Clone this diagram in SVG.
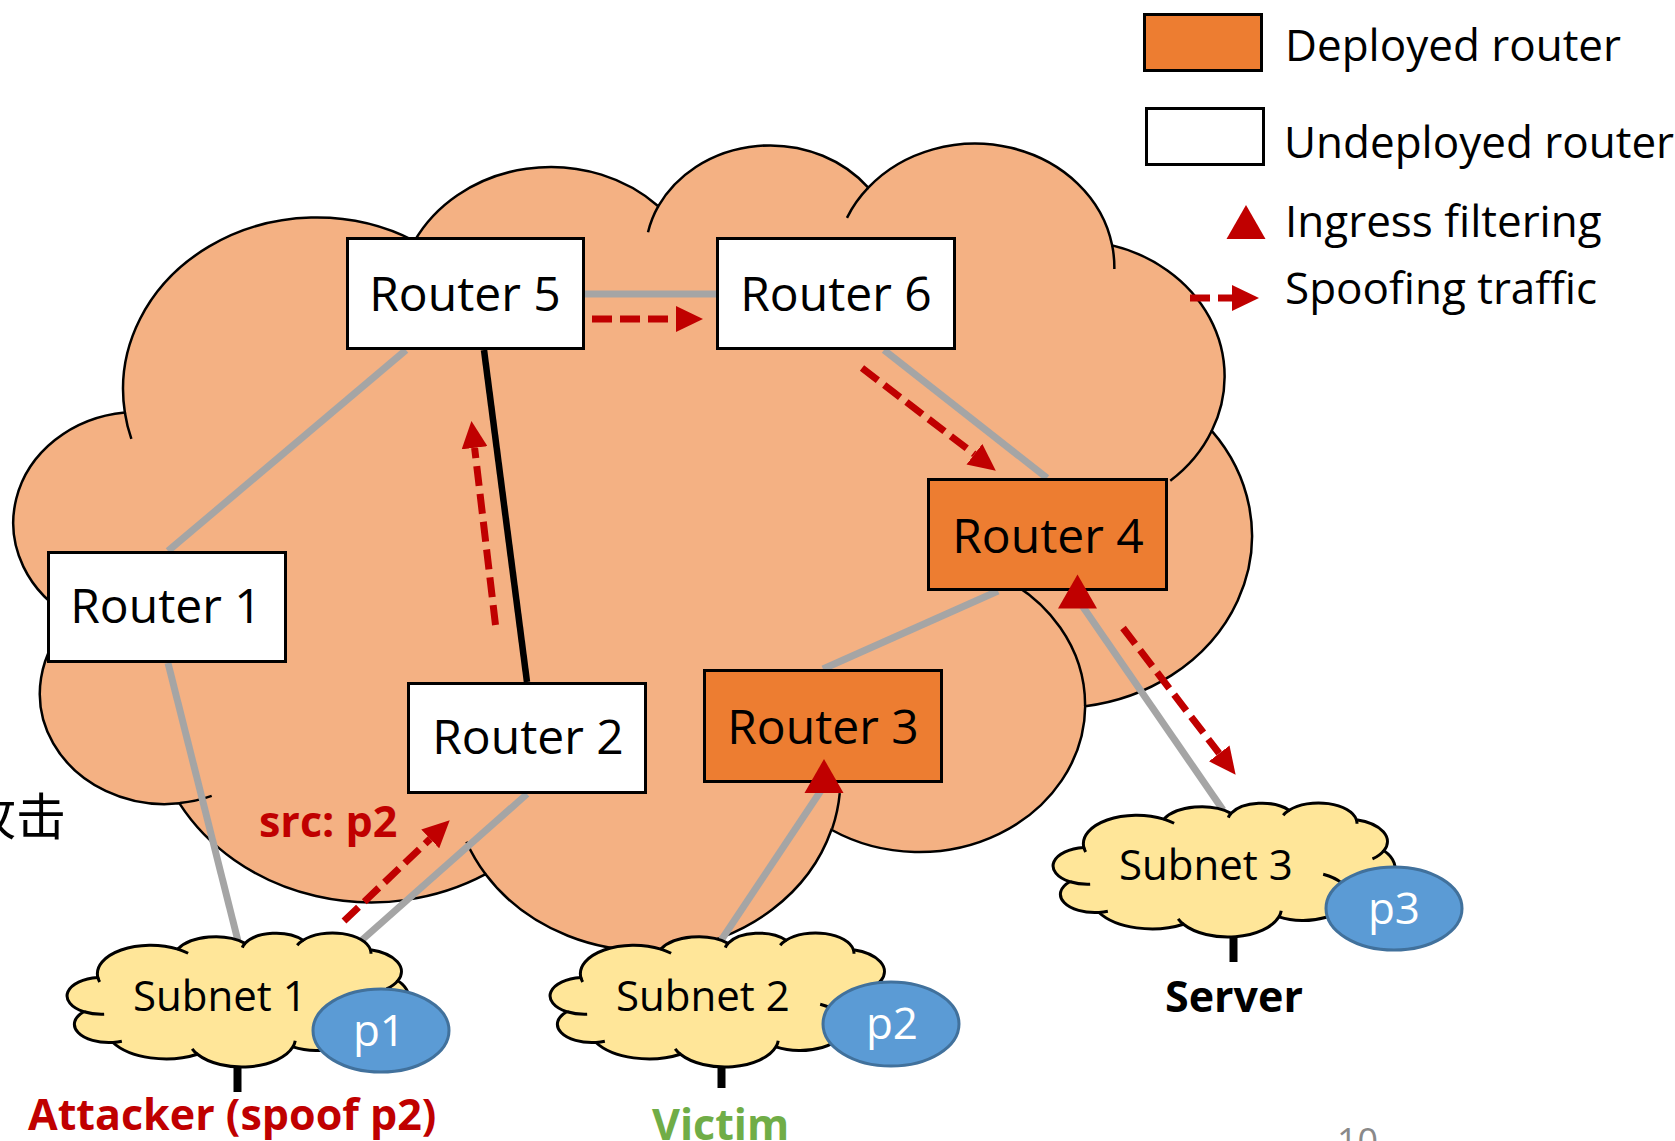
<svg xmlns="http://www.w3.org/2000/svg" width="1675" height="1141" viewBox="0 0 1675 1141">
  <style>
    text { font-family: "Open Sans", "Noto Sans", sans-serif; }
    .cjk { font-family: "Open Sans", "Noto Sans CJK SC", sans-serif; font-size: 50px; fill: #000; }
    .router { stroke: #000; stroke-width: 3; }
    .deployed { fill: #ED7D31; }
    .undeployed { fill: #FFFFFF; }
    .rlabel { font-size: 48px; fill: #000; text-anchor: middle; }
    .link { stroke: #A5A5A5; stroke-width: 7; fill: none; }
    .trunk { stroke: #000; stroke-width: 6.5; fill: none; }
    .spoof { stroke: #C00000; stroke-width: 7; stroke-dasharray: 20 8; fill: none; marker-end: url(#head); }
    .filter { fill: #C00000; }
    .bigcloud { fill: #F4B183; stroke: #000; stroke-width: 2.5; }
    .subcloud { fill: #FFE699; stroke: #000; stroke-width: 3; }
    .prefix { fill: #5B9BD5; stroke: #41719C; stroke-width: 3; }
    .plabel { font-size: 44px; fill: #FFFFFF; text-anchor: middle; }
    .slabel { font-size: 42px; fill: #000; }
    .host { stroke: #000; stroke-width: 8; }
    .hostlabel { font-weight: 700; font-size: 43px; }
    .legend { font-size: 44px; fill: #000; }
  </style>
  <defs>
    <!-- cloud outline in a 432 x 432 box; scaled per use -->
    <g id="cloud">
      <path vector-effect="non-scaling-stroke" d="M39,143.7 A67.53,91.9 0 0 1 140,51.92 A53.33,72.67 0 0 1 225,33.3 A43.65,59.45 0 0 1 298.2,23.39 A48.57,65.95 0 0 1 383.24,54.26 A53.33,72.73 0 0 1 417.98,153.54 A67.75,92.2 0 0 1 373.84,300.97 A57.85,78.67 0 0 1 285.36,367.08 A67.52,92.15 0 0 1 164.78,390.9 A77.2,105.43 0 0 1 58.03,352.96 A43.6,59.18 0 0 1 21.12,253.74 A43.45,59.45 0 0 1 39,143.7 Z"/>
      <path vector-effect="non-scaling-stroke" fill="none" d="M46.93,261.77 A43.45,59.45 0 0 1 21.6,253.8 M69.28,348.99 A43.6,59.18 0 0 1 58.2,352.81 M164.78,390.9 A67.52,92.15 0 0 1 158.1,373.5 M288.27,347.51 A67.52,92.15 0 0 1 285.6,366.6 M341.29,229.54 A57.85,78.67 0 0 1 373.8,300.9 M417.98,153.54 A53.33,72.73 0 0 1 403.5,180.3 M383.24,54.26 A48.57,65.95 0 0 1 384,66.9 M290.78,39.52 A48.57,65.95 0 0 1 298.2,23.39 M221.41,47.2 A43.65,59.45 0 0 1 225,33.3 M140,51.92 A67.53,91.9 0 0 1 153,65.4 M41.27,157.89 A67.53,91.9 0 0 1 39,143.7"/>
    </g>
    <path id="tri" d="M0,-17 L19.5,17 L-19.5,17 Z"/>
    <marker id="head" markerUnits="userSpaceOnUse" viewBox="0 0 27 26" markerWidth="27" markerHeight="26" refX="0" refY="13" orient="auto">
      <path d="M0,0 L27,13 L0,26 Z" fill="#C00000"/>
    </marker>
  </defs>

  <!-- network cloud -->
  <use id="network" href="#cloud" class="bigcloud" transform="translate(13 144) scale(2.86806 1.86806)"/>

  <!-- side caption, partly outside the page -->
  <text class="cjk" x="-34" y="835">攻击</text>

  <!-- links between routers and subnets -->
  <g id="links">
    <line class="link" x1="585" y1="294" x2="716" y2="294"/>
    <line class="link" x1="168" y1="551" x2="406" y2="350"/>
    <line class="link" x1="884" y1="350" x2="1047" y2="478"/>
    <line class="link" x1="998" y1="591" x2="823" y2="669"/>
    <line class="link" x1="168" y1="663" x2="238" y2="941"/>
    <line class="link" x1="527" y1="794" x2="362" y2="940"/>
    <line class="link" x1="826" y1="783" x2="720" y2="942"/>
    <line class="link" x1="1072" y1="591" x2="1223" y2="810"/>
    <line class="trunk" x1="484" y1="350" x2="527" y2="682"/>
  </g>

  <!-- subnets -->
  <g id="subnet1">
    <line class="host" x1="237.5" y1="1060" x2="237.5" y2="1092"/>
    <use href="#cloud" class="subcloud" transform="translate(67 933) scale(0.79167 0.31019)"/>
    <text class="slabel" x="133" y="1011">Subnet 1</text>
    <ellipse class="prefix" cx="381" cy="1030.5" rx="68" ry="41.5"/>
    <text class="plabel" x="379" y="1046">p1</text>
    <text class="hostlabel" x="28" y="1130" fill="#C00000">Attacker (spoof p2)</text>
  </g>
  <g id="subnet2">
    <line class="host" x1="721.5" y1="1060" x2="721.5" y2="1088"/>
    <use href="#cloud" class="subcloud" transform="translate(550 933) scale(0.79167 0.31019)"/>
    <text class="slabel" x="616" y="1011">Subnet 2</text>
    <ellipse class="prefix" cx="891" cy="1024" rx="68" ry="42"/>
    <text class="plabel" x="892" y="1039">p2</text>
    <text class="hostlabel" x="652" y="1140" fill="#70AD47">Victim</text>
  </g>
  <g id="subnet3">
    <line class="host" x1="1233.5" y1="930" x2="1233.5" y2="962"/>
    <use href="#cloud" class="subcloud" transform="translate(1053 803) scale(0.79167 0.31019)"/>
    <text class="slabel" x="1119" y="880">Subnet 3</text>
    <ellipse class="prefix" cx="1394" cy="908.5" rx="68" ry="41.5"/>
    <text class="plabel" x="1394" y="924">p3</text>
    <text class="hostlabel" x="1165" y="1012" fill="#000">Server</text>
  </g>

  <!-- routers -->
  <g id="router5">
    <rect class="router undeployed" x="347.5" y="238.5" width="236" height="110"/>
    <text class="rlabel" x="465" y="311">Router 5</text>
  </g>
  <g id="router6">
    <rect class="router undeployed" x="717.5" y="238.5" width="237" height="110"/>
    <text class="rlabel" x="836" y="311">Router 6</text>
  </g>
  <g id="router1">
    <rect class="router undeployed" x="48.5" y="552.5" width="237" height="109"/>
    <text class="rlabel" x="166" y="623">Router 1</text>
  </g>
  <g id="router2">
    <rect class="router undeployed" x="408.5" y="683.5" width="237" height="109"/>
    <text class="rlabel" x="528" y="754">Router 2</text>
  </g>
  <g id="router3">
    <rect class="router deployed" x="704.5" y="670.5" width="237" height="111"/>
    <text class="rlabel" x="823" y="744">Router 3</text>
  </g>
  <g id="router4">
    <rect class="router deployed" x="928.5" y="479.5" width="238" height="110"/>
    <text class="rlabel" x="1048" y="553">Router 4</text>
  </g>

  <!-- ingress filters -->
  <g id="filters">
    <use href="#tri" class="filter" transform="translate(1077.5 591.5)"/>
    <use href="#tri" class="filter" transform="translate(824 776)"/>
  </g>

  <!-- spoofed packet path -->
  <g id="spoofing">
    <path class="spoof" d="M344,921 L430.2,838.9"/>
    <path class="spoof" d="M495.5,625 L474.6,447.8"/>
    <path class="spoof" d="M592,319 L676,319"/>
    <path class="spoof" d="M862,368 L974.4,454.2"/>
    <path class="spoof" d="M1123,628 L1219.2,753.4"/>
  </g>
  <text x="259" y="837" class="hostlabel" font-size="42" fill="#C00000">src: p2</text>

  <!-- legend -->
  <g id="legend">
    <rect class="router deployed" x="1144.5" y="14.5" width="117" height="56"/>
    <text class="legend" x="1285" y="61">Deployed router</text>
    <rect class="router undeployed" x="1146.5" y="108.5" width="117" height="56"/>
    <text class="legend" x="1284" y="158">Undeployed router</text>
    <use href="#tri" class="filter" transform="translate(1246 222)"/>
    <text class="legend" x="1285" y="237">Ingress filtering</text>
    <path class="spoof" d="M1190,298 L1232,298"/>
    <text class="legend" x="1285" y="304">Spoofing traffic</text>
  </g>

  <!-- page number -->
  <text x="1337" y="1154" font-size="36" fill="#898989">10</text>
</svg>
